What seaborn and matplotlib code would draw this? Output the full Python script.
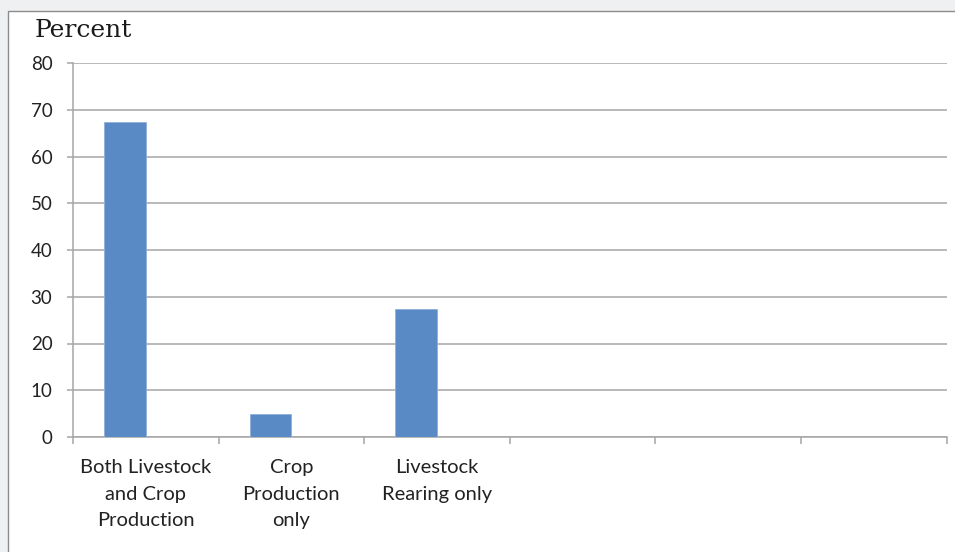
import matplotlib
matplotlib.use("Agg")
import matplotlib.pyplot as plt
from matplotlib.patches import Rectangle
import numpy as np
import pandas as pd
import seaborn as sns

# Farming activity categories and share of households (percent)
categories = ["Both Livestock\nand Crop\nProduction", "Crop\nProduction\nonly", "Livestock\nRearing only"]
percent = [67.4, 5.0, 27.4]
# second (empty) series keeps the clustered-bar slot layout
series_names = ["Percent", "Series 2"]
empty_series = [np.nan, np.nan, np.nan]
y_ticks = [0, 10, 20, 30, 40, 50, 60, 70, 80]
n_slots = 6

df = pd.DataFrame({
    "category": categories * 2,
    "series": [series_names[0]] * len(categories) + [series_names[1]] * len(categories),
    "value": percent + empty_series,
})

sns.set_style("white")
plt.rcParams["font.family"] = ["Lato", "DejaVu Sans"]

W, H = 955, 552
fig = plt.figure(figsize=(W / 100, H / 100), dpi=100, facecolor="#eef0f2")

# white chart panel with a thin grey frame
fig.patches.append(Rectangle((8 / W, -0.05), 1.2, (552 - 11) / H + 0.05,
                             transform=fig.transFigure, facecolor="white",
                             edgecolor="#8c8c8c", linewidth=1.0, zorder=-10))

ax = fig.add_axes([73 / W, (H - 437) / H, (946.5 - 73) / W, (437 - 63) / H])
ax.set_facecolor("none")

sns.barplot(data=df, x="category", y="value", hue="series", hue_order=series_names,
            order=categories, palette={"Percent": "#5A8AC6", "Series 2": "#C0504D"},
            saturation=1, width=0.572, dodge=True, errorbar=None, legend=False,
            edgecolor="#8FB0DA", linewidth=0.6, ax=ax, zorder=3)

ax.set_xlim(-0.5, n_slots - 0.5)
ax.set_ylim(0, 80)
ax.set_yticks(y_ticks)
ax.set_xlabel("")
ax.set_ylabel("")

grid_c = "#a6a6a6"
ax.grid(axis="y", color=grid_c, linewidth=1.1, zorder=1)
ax.grid(axis="x", visible=False)
for side in ["top", "right"]:
    ax.spines[side].set_visible(False)
for side in ["left", "bottom"]:
    ax.spines[side].set_color(grid_c)
    ax.spines[side].set_linewidth(1.1)

ax.tick_params(axis="y", which="major", length=4.3, width=1.1, color=grid_c,
               pad=10.5, labelsize=13.5, labelcolor="#222222", left=True)
ax.tick_params(axis="x", which="major", length=0, pad=16, labelsize=14.5,
               labelcolor="#222222")
ax.set_xticks(range(len(categories)))
ax.set_xticklabels(categories, linespacing=1.68)
ax.set_xticks(np.arange(-0.5, n_slots, 1.0), minor=True)
ax.tick_params(axis="x", which="minor", length=5, width=1.1, color=grid_c,
               direction="out", bottom=True)

fig.text(35 / W, 1 - 37 / H, "Percent", family=["DejaVu Serif"], fontsize=18,
         color="#1a1a1a", va="baseline", ha="left")

fig.savefig("out.png", dpi=100, facecolor=fig.get_facecolor())
